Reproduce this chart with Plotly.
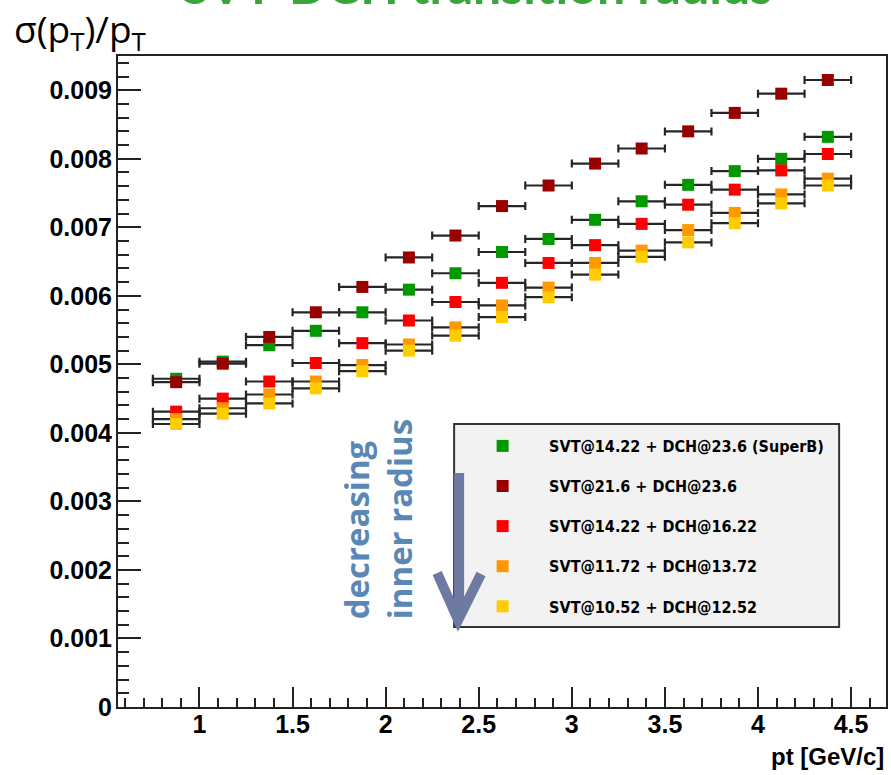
import plotly.graph_objects as go

# ---------------- data ----------------
pt = [0.875, 1.125, 1.375, 1.625, 1.875, 2.125, 2.375, 2.625,
      2.875, 3.125, 3.375, 3.625, 3.875, 4.125, 4.375]
pt_err = [0.125] * len(pt)   # half bin width

series_names = [
    "SVT@14.22 + DCH@23.6 (SuperB)",
    "SVT@21.6 + DCH@23.6",
    "SVT@14.22 + DCH@16.22",
    "SVT@11.72 + DCH@13.72",
    "SVT@10.52 + DCH@12.52",
]
res_superb = [4.79, 5.04, 5.28, 5.49, 5.76, 6.09, 6.33, 6.64, 6.83, 7.11, 7.38, 7.62, 7.82, 8.00, 8.32]
res_svt216 = [4.74, 5.01, 5.40, 5.76, 6.13, 6.56, 6.88, 7.31, 7.61, 7.93, 8.15, 8.40, 8.67, 8.95, 9.15]
res_svt1422 = [4.31, 4.50, 4.75, 5.02, 5.31, 5.64, 5.91, 6.19, 6.48, 6.74, 7.05, 7.33, 7.55, 7.83, 8.07]
res_svt1172 = [4.20, 4.36, 4.56, 4.75, 4.99, 5.29, 5.54, 5.86, 6.12, 6.48, 6.66, 6.96, 7.21, 7.48, 7.71]
res_svt1052 = [4.13, 4.28, 4.43, 4.65, 4.90, 5.20, 5.42, 5.69, 5.98, 6.31, 6.57, 6.78, 7.06, 7.35, 7.61]
series_values = [res_superb, res_svt216, res_svt1422, res_svt1172, res_svt1052]  # in units of 1e-3

y_tickvals = [0, 0.001, 0.002, 0.003, 0.004, 0.005, 0.006, 0.007, 0.008, 0.009]
y_ticktext = ["0", "0.001", "0.002", "0.003", "0.004", "0.005", "0.006", "0.007", "0.008", "0.009"]
x_tickvals = [1, 1.5, 2, 2.5, 3, 3.5, 4, 4.5]
x_ticktext = ["1", "1.5", "2", "2.5", "3", "3.5", "4", "4.5"]

colors = ["#009900", "#990000", "#ff0000", "#ff9900", "#ffcc00"]

# ---------------- layout geometry ----------------
W, H = 891, 775
ML, MR, MT, MB = 118, 3, 56, 68
PW, PH = W - ML - MR, H - MT - MB

def px(xp):
    return (xp - ML) / PW

def py(yp):
    return (H - MB - yp) / PH

fig = go.Figure()

for name, vals, col in zip(series_names, series_values, colors):
    fig.add_trace(go.Scatter(
        x=pt, y=[v * 1e-3 for v in vals],
        mode="markers", name=name, legendgroup=name,
        marker=dict(symbol="square", size=12, color=col, line=dict(width=0)),
        error_x=dict(type="data", array=pt_err, symmetric=True,
                     color="#262626", thickness=2.2, width=4),
    ))

tickfont = dict(family="Liberation Sans, Arial, sans-serif", size=25, color="black", weight="bold")

fig.update_xaxes(
    range=[0.5625, 4.6875], tickvals=x_tickvals, ticktext=x_ticktext,
    ticks="inside", ticklen=20, tickwidth=2, tickcolor="#222",
    minor=dict(ticks="inside", dtick=0.1, tick0=0, ticklen=9, tickwidth=2, tickcolor="#222"),
    showline=True, linecolor="#222", linewidth=2, mirror=True,
    showgrid=False, zeroline=False, tickfont=tickfont, ticklabelstandoff=-6,
)
fig.update_yaxes(
    range=[0, 0.0095], tickvals=y_tickvals, ticktext=y_ticktext,
    ticks="inside", ticklen=23, tickwidth=2, tickcolor="#222",
    minor=dict(ticks="inside", dtick=0.0002, tick0=0, ticklen=11, tickwidth=2, tickcolor="#222"),
    showline=True, linecolor="#222", linewidth=2, mirror=True,
    showgrid=False, zeroline=False, tickfont=tickfont, ticklabelstandoff=-1,
)

shapes = [
    # legend box
    dict(type="rect", xref="paper", yref="paper",
         x0=px(455), x1=px(841), y0=py(627), y1=py(424),
         fillcolor="#f2f2f2", line=dict(color="#333", width=2), layer="above"),
    # arrow
    dict(type="path", xref="paper", yref="paper",
         path=f"M {px(460)},{py(473)} L {px(460)},{py(612)} "
              f"M {px(438)},{py(573)} L {px(459)},{py(620)} L {px(482)},{py(574)}",
         line=dict(color="#6f7aa3", width=10), layer="above"),
]

annotations = [
    dict(text="decreasing<br>inner radius", textangle=-90, xref="paper", yref="paper",
         x=px(379), y=py(519), xanchor="center", yanchor="middle", align="left",
         showarrow=False, font=dict(family="Open Sans, sans-serif", size=33,
                                   color="#5a88b4", weight="bold")),
    dict(text="σ(p<sub>T</sub>)/p<sub>T</sub>", xref="paper", yref="paper",
         x=px(12), y=py(1), xanchor="left", yanchor="top", showarrow=False,
         font=dict(family="Open Sans, sans-serif", size=37, color="black")),
    dict(text="pt [GeV/c]", xref="paper", yref="paper",
         x=px(888), y=py(741), xanchor="right", yanchor="top", showarrow=False,
         font=dict(family="Liberation Sans, Arial, sans-serif", size=24, color="black", weight="bold")),
    dict(text="SVT-DCH transition radius", xref="paper", yref="paper",
         x=px(478), y=py(17), xanchor="center", yanchor="bottom", showarrow=False,
         font=dict(family="Lato, sans-serif", size=50, color="#3aa53a", weight="bold")),
]

fig.update_layout(
    width=W, height=H, margin=dict(l=ML, r=MR, t=MT, b=MB),
    paper_bgcolor="white", plot_bgcolor="rgba(0,0,0,0)",
    shapes=shapes, annotations=annotations,
    showlegend=True,
    legend=dict(x=px(457), y=py(429), xanchor="left", yanchor="top",
                bgcolor="rgba(0,0,0,0)", borderwidth=0, itemwidth=83,
                tracegroupgap=16.3, traceorder="grouped",
                font=dict(family="DejaVu Sans Condensed, Liberation Sans, Arial, sans-serif",
                          size=16, color="black", weight="bold")),
)

fig.write_html("out.html")
